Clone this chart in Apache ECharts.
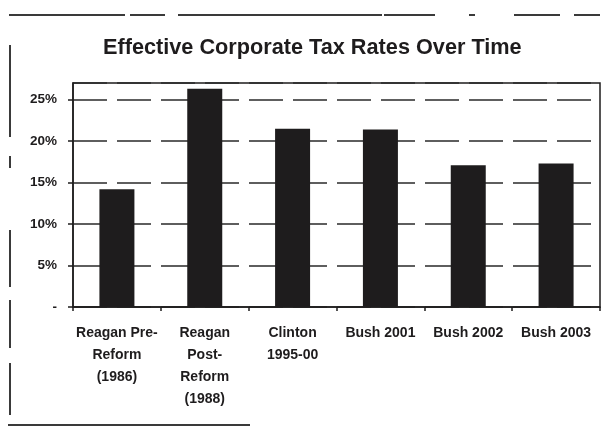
<!DOCTYPE html>
<html>
<head>
<meta charset="utf-8">
<script src="https://cdn.jsdelivr.net/npm/echarts@6/dist/echarts.min.js"></script>
<style>
  html, body { margin: 0; padding: 0; background: #fff; }
  #chart { width: 609px; height: 427px; }
</style>
</head>
<body>
<div id="chart"></div>
<script>
// Effective corporate tax rate by period
const categories = [
  'Reagan Pre-\nReform\n(1986)',
  'Reagan\nPost-\nReform\n(1988)',
  'Clinton\n1995-00',
  'Bush 2001',
  'Bush 2002',
  'Bush 2003'
];
const rates = [14.2, 26.3, 21.5, 21.4, 17.1, 17.3];
const yTicks = [0, 5, 10, 15, 20, 25];

const ink = '#1e1c1d';
const font = '"Liberation Sans", Arial, sans-serif';

// page frame around the chart (segmented rules)
function seg(x1, y1, x2, y2) {
  return { type: 'line', shape: { x1, y1, x2, y2 }, style: { stroke: '#3a3a3a', lineWidth: 2 }, silent: true };
}
const frame = [
  seg(9, 15, 125, 15), seg(130, 15, 165, 15), seg(178, 15, 382, 15), seg(384, 15, 435, 15),
  seg(469, 15, 475, 15), seg(514, 15, 560, 15), seg(574, 15, 600, 15),
  seg(10, 45, 10, 137), seg(10, 156, 10, 168), seg(10, 230, 10, 287),
  seg(10, 300, 10, 348), seg(10, 363, 10, 415),
  seg(8, 425, 250, 425)
];

const chart = echarts.init(document.getElementById('chart'), null, { renderer: 'canvas' });
chart.setOption({
  backgroundColor: '#fff',
  animation: false,
  title: {
    text: 'Effective Corporate Tax Rates Over Time',
    left: 103,
    top: 37,
    padding: 0,
    textStyle: { fontFamily: font, fontSize: 21.7, fontWeight: 'bold', color: ink }
  },
  grid: {
    left: 73, right: 9, top: 83, bottom: 120,
    show: true, borderColor: ink, borderWidth: 1.5, backgroundColor: 'transparent'
  },
  xAxis: {
    type: 'category',
    data: categories,
    axisLine: { lineStyle: { color: ink, width: 1.5 } },
    axisTick: { show: true, length: 4, lineStyle: { color: ink, width: 1.5 } },
    axisLabel: {
      interval: 0, margin: 15,
      fontFamily: font, fontSize: 14, fontWeight: 'bold', lineHeight: 22, color: ink
    }
  },
  yAxis: {
    type: 'value',
    min: 0, max: 27, interval: 5,
    axisLine: { show: true, lineStyle: { color: ink, width: 1.5 } },
    axisTick: { show: true, length: 5, lineStyle: { color: ink, width: 1.5 } },
    axisLabel: {
      margin: 16, showMaxLabel: false,
      fontFamily: font, fontSize: 13.5, fontWeight: 'bold', color: ink,
      formatter: v => (yTicks.includes(v) ? (v === 0 ? '-' : v + '%') : '')
    },
    splitLine: { show: true, lineStyle: { color: '#2a2a2a', width: 1.5, type: [34, 10] } }
  },
  series: [{
    type: 'bar',
    data: rates,
    barWidth: 35,
    itemStyle: { color: ink }
  }],
  graphic: frame
});
</script>
</body>
</html>
